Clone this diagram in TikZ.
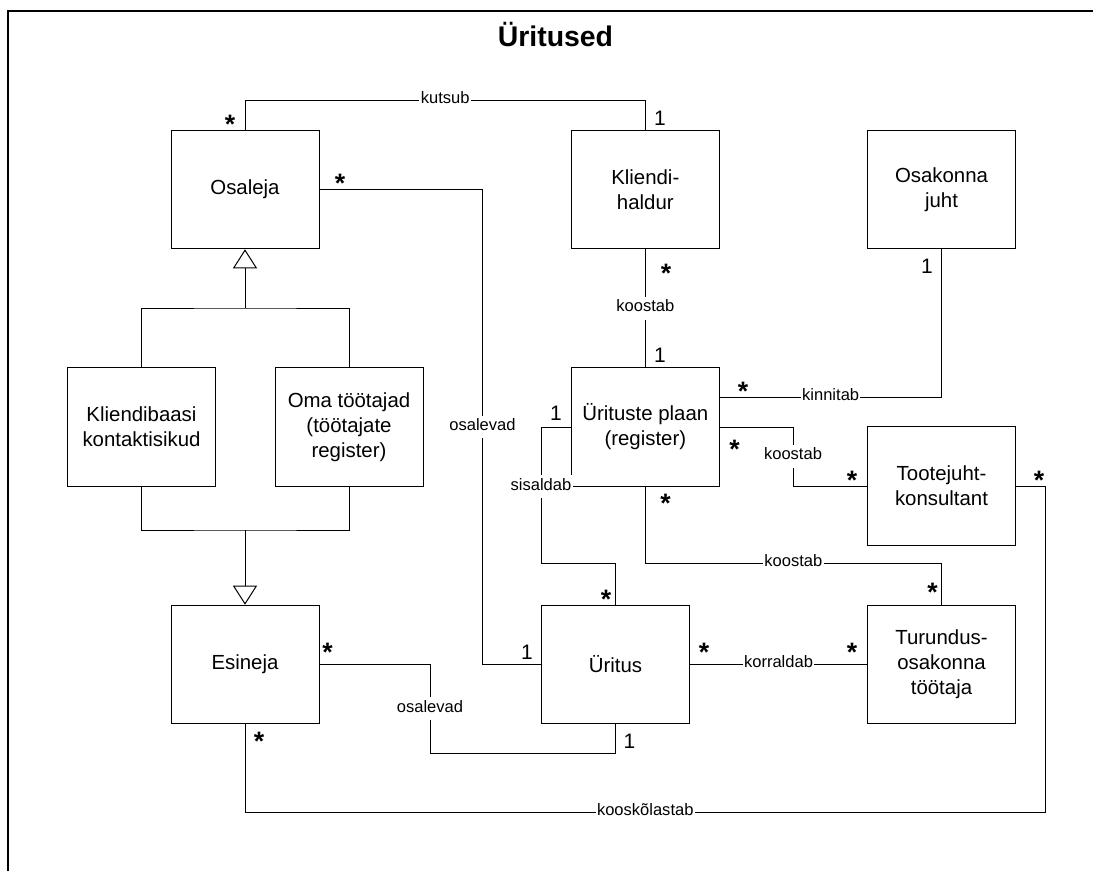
\documentclass[tikz,border=0pt]{standalone}
\usepackage{fontspec}
\setmainfont{Liberation Sans}
\usetikzlibrary{arrows.meta}
\begin{document}
\begin{tikzpicture}[x=0.75pt,y=-0.75pt,
  cls/.style={draw, line width=0.75pt, minimum width=111pt, minimum height=88.9pt,
    inner sep=0pt, align=center, font=\fontsize{15.3}{18.75}\selectfont},
  conn/.style={line width=0.75pt},
  lbl/.style={fill=white, inner xsep=1pt, inner ysep=4pt, text height=0.72em,
    text depth=0.2em, font=\fontsize{12.4}{14}\selectfont},
  mult/.style={anchor=base, inner sep=0pt, font=\fontsize{15.7}{18}\selectfont},
  many/.style={anchor=base, inner sep=0pt, font=\fontsize{20}{22}\selectfont\bfseries},
  gen/.style={-{Triangle[open, length=14.25pt, width=18pt, line width=0.75pt]}}]
\useasboundingbox (0,0) rectangle (1093,871);

% frame and title
\draw[line width=1.1pt] (1093,11) -- (8,11) -- (8,871);
\node[anchor=base, inner sep=0pt, font=\fontsize{21.3}{24}\selectfont\bfseries] (title) at (555.5,46.5) {Üritused};

% classes
\node[cls] (osaleja)   at (245,189.5)   {Osaleja};
\node[cls] (kliendi)   at (645.3,189.5) {Kliendi-\\haldur};
\node[cls] (osakonna)  at (941.5,189.5) {Osakonna\\juht};
\node[cls] (plaan)     at (645.3,427)   {Ürituste plaan\\(register)};
\node[cls] (kbaasi)    at (141.5,427)   {Kliendibaasi\\kontaktisikud};
\node[cls] (oma)       at (349,427)     {Oma töötajad\\(töötajate\\register)};
\node[cls] (tootejuht) at (941.5,486)   {Tootejuht-\\konsultant};
\node[cls] (esineja)   at (245,664.5)   {Esineja};
\node[cls] (yritus)    at (615.5,664.5) {Üritus};
\node[cls] (turundus)  at (941.5,664.5) {Turundus-\\osakonna\\töötaja};

% generalisations
\draw[conn] (kbaasi.north) |- (osaleja.south |- 0,308) -| (oma.north);
\draw[conn,gen] (osaleja.south |- 0,308) -- (osaleja.south);
\draw[conn] (kbaasi.south) |- (esineja.north |- 0,530) -| (oma.south);
\draw[conn,gen] (esineja.north |- 0,530) -- (esineja.north);

% associations
\draw[conn] (osaleja.north) |- node[lbl,pos=0.75] (l1) {kutsub} (kliendi.north |- 0,100) -- (kliendi.north);
\draw[conn] (osaleja.east) -| node[lbl,pos=0.75] (l2) {osalevad} (482.5,664.5) -- (yritus.west);
\draw[conn] (kliendi.south) -- node[lbl] (l3) {koostab} (plaan.north);
\draw[conn] (plaan.east |- 0,397) -| node[lbl,pos=0.25] (l4) {kinnitab} (osakonna.south);
\draw[conn] (plaan.east) -| node[lbl,pos=0.75] (l5) {koostab} (793,486) -- (tootejuht.west);
\draw[conn] (plaan.south) |- node[lbl,pos=0.75] (l6) {koostab} (turundus.north |- 0,563) -- (turundus.north);
\draw[conn] (plaan.west) -| node[lbl,pos=0.72] (l7) {sisaldab} (yritus.west |- 0,563) -| (yritus.north);
\draw[conn] (esineja.east) -- (430,664.5) -- node[lbl] (l8) {osalevad} (430,753) -| (yritus.south);
\draw[conn] (yritus.east) -- node[lbl] (l9) {korraldab} (turundus.west);
\draw[conn] (esineja.south) |- node[lbl,pos=0.75] (l10) {kooskõlastab} (1045.5,812) |- (tootejuht.east);

% multiplicities
\node[many] (m1)  at (230,133.3)   {*};
\node[mult] (m2)  at (660,125.5)   {1};
\node[many] (m3)  at (340,192.3)   {*};
\node[many] (m4)  at (666,282.3)   {*};
\node[mult] (m5)  at (660,362.2)   {1};
\node[mult] (m6)  at (927,273.5)   {1};
\node[many] (m7)  at (743,400.3)   {*};
\node[mult] (m8)  at (556,420.5)   {1};
\node[many] (m9)  at (734.5,458.3) {*};
\node[many] (m10) at (852,489.3)   {*};
\node[many] (m11) at (1039,489.3)  {*};
\node[many] (m12) at (665.6,512.3) {*};
\node[many] (m13) at (606,608.3)   {*};
\node[many] (m14) at (932.5,601.3) {*};
\node[mult] (m15) at (527,659.5)   {1};
\node[many] (m16) at (704,661.3)   {*};
\node[many] (m17) at (852,661.3)   {*};
\node[many] (m18) at (327.6,661.3) {*};
\node[mult] (m19) at (629.5,748.5) {1};
\node[many] (m20) at (259,750.3)   {*};
\end{tikzpicture}
\end{document}
